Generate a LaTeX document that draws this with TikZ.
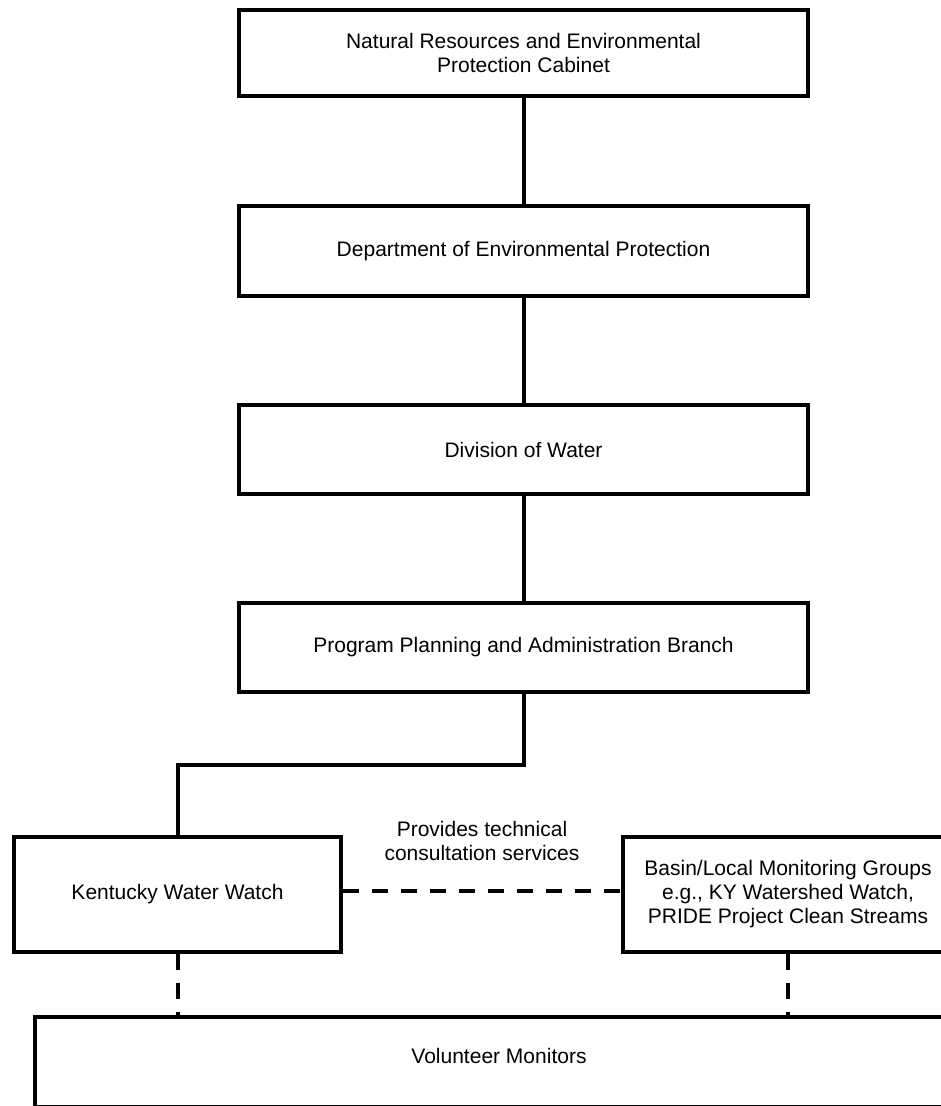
\documentclass[tikz,border=0pt]{standalone}
\usepackage{fontspec}
\setmainfont{Liberation Sans}
\begin{document}
\begin{tikzpicture}[x=1pt,y=-1pt,
  box/.style={draw=black,line width=4pt,rectangle,inner sep=0pt,align=center,
    font=\fontsize{21}{24}\selectfont},
  txt/.style={inner sep=0pt,align=center,font=\fontsize{21}{24}\selectfont},
  solidlink/.style={line width=4pt},
  dashlink/.style={line width=4pt,dash pattern=on 16pt off 13pt}]
\clip (0,0) rectangle (941,1106);
\fill[white] (0,0) rectangle (941,1106);
\node[box,minimum width=569pt,minimum height=86pt] (b1) at (523.5,53)
  {Natural Resources and Environmental\\Protection Cabinet};
\node[box,minimum width=569pt,minimum height=90pt] (b2) at (523.5,251)
  {Department of Environmental Protection};
\node[box,minimum width=569pt,minimum height=89pt] (b3) at (523.5,449.5)
  {Division of Water};
\node[box,minimum width=569pt,minimum height=89pt] (b4) at (523.5,647.5)
  {Program Planning and Administration Branch};
\node[box,minimum width=327pt,minimum height=115pt] (kww) at (177.5,894.5)
  {Kentucky Water Watch};
\node[box,minimum width=330pt,minimum height=115pt] (basin) at (788,894.5)
  {Basin/Local Monitoring Groups\\e.g., KY Watershed Watch,\\PRIDE Project Clean Streams};
\node[box,minimum width=955pt,minimum height=90pt] (vol) at (512.5,1062) {};
\node[txt,anchor=base] (voltext) at (499,1063) {Volunteer Monitors};
\node[txt] (lbl) at (482,841) {Provides technical\\consultation services};
\coordinate (elbow) at (0,765);
\draw[solidlink] (b1) -- (b2);
\draw[solidlink] (b2) -- (b3);
\draw[solidlink] (b3) -- (b4);
\draw[solidlink] (b4.south) -- (b4.south |- elbow) -| (kww.north);
\draw[dashlink] ([yshift=3.5pt]kww.east) -- ([yshift=3.5pt]basin.west);
\draw[dashlink] (kww.south) -- (kww.south |- vol.north);
\draw[dashlink] (basin.south) -- (basin.south |- vol.north);
\end{tikzpicture}
\end{document}
